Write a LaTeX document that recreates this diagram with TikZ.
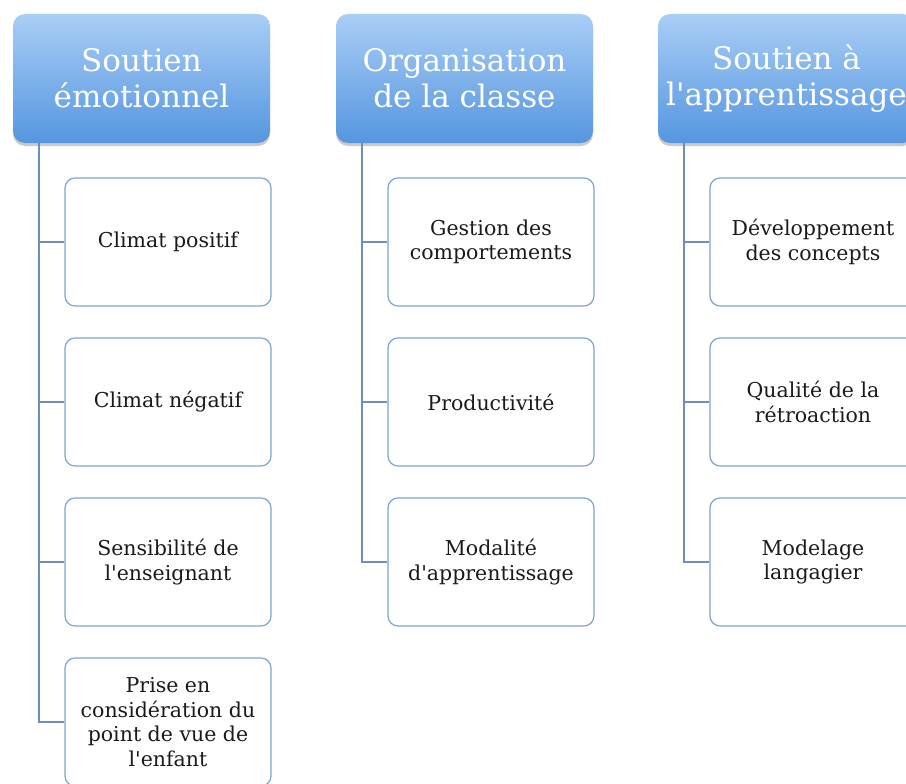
\documentclass[tikz,border=0pt]{standalone}
\usepackage{fontspec}
\setmainfont{DejaVu Serif}
\usetikzlibrary{shadows}
\definecolor{hdtop}{HTML}{A9CDF6}
\definecolor{hdbot}{HTML}{5596DF}
\definecolor{bordc}{HTML}{7FA3D0}
\definecolor{linec}{HTML}{6F8FBA}
\definecolor{txtc}{HTML}{1A1A1A}
\newcommand{\apos}{\textquotesingle}
\begin{document}
\begin{tikzpicture}[x=1pt,y=-1pt,
  header/.style={rounded corners=12pt, minimum width=257pt, minimum height=129pt,
    top color=hdtop, bottom color=hdbot, draw=none, text=white,
    font=\fontsize{31}{36}\selectfont, align=center, inner sep=0pt,
    drop shadow={shadow xshift=0pt, shadow yshift=-3pt, opacity=0.35, fill=black!60}},
  child/.style={rounded corners=10pt, minimum width=206pt, minimum height=128pt,
    draw=bordc, line width=1.2pt, fill=white, text=txtc,
    font=\fontsize{20.5}{24.5}\selectfont, align=center, inner sep=0pt},
  tree/.style={draw=linec, line width=1.4pt}]
\useasboundingbox (0,0) rectangle (906,784);
\clip (0,0) rectangle (906,784);
% headers
\node[header] (h1) at (141.5,78.5) {Soutien\\émotionnel};
\node[header] (h2) at (464.5,78.5) {Organisation\\de la classe};
\node[header] (h3) at (786.5,78.5) {Soutien à\\l\apos apprentissage};
% tree anchors
\coordinate (t1) at (39,143);
\coordinate (t2) at (362,143);
\coordinate (t3) at (684,143);
% children column 1
\node[child] (c11) at (168,242) {Climat positif};
\node[child] (c12) at (168,402) {Climat négatif};
\node[child] (c13) at (168,562) {Sensibilité de\\l\apos enseignant};
\node[child] (c14) at (168,722) {Prise en\\considération du\\point de vue de\\l\apos enfant};
% children column 2
\node[child] (c21) at (491,242) {Gestion des\\comportements};
\node[child] (c22) at (491,402) {Productivité};
\node[child] (c23) at (491,562) {Modalité\\d\apos apprentissage};
% children column 3
\node[child] (c31) at (813,242) {Développement\\des concepts};
\node[child] (c32) at (813,402) {Qualité de la\\rétroaction};
\node[child] (c33) at (813,562) {Modelage\\langagier};
% connectors
\draw[tree] (t1) |- (c14.west);
\draw[tree] (t1 |- c11.west) -- (c11.west);
\draw[tree] (t1 |- c12.west) -- (c12.west);
\draw[tree] (t1 |- c13.west) -- (c13.west);
\draw[tree] (t2) |- (c23.west);
\draw[tree] (t2 |- c21.west) -- (c21.west);
\draw[tree] (t2 |- c22.west) -- (c22.west);
\draw[tree] (t3) |- (c33.west);
\draw[tree] (t3 |- c31.west) -- (c31.west);
\draw[tree] (t3 |- c32.west) -- (c32.west);
\end{tikzpicture}
\end{document}
